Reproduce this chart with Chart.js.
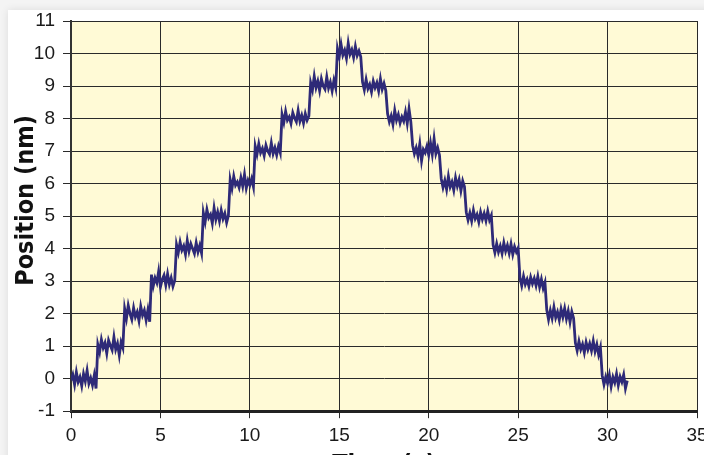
<!DOCTYPE html>
<html>
<head>
<meta charset="utf-8">
<script src="https://cdn.jsdelivr.net/npm/chart.js@4/dist/chart.umd.min.js"></script>
<style>
    html, body { margin: 0; padding: 0; width: 704px; height: 455px; overflow: hidden; background: #f4f4f4; }
    .card { position: absolute; left: 8px; top: 10px; width: 720px; height: 480px; background: #fff; box-shadow: 0 0 8px rgba(0,0,0,0.10); }
    .chart-box { position: absolute; left: 0; top: 0; width: 704px; height: 478px; }
</style>
</head>
<body>
<div class="card"></div>
<div class="chart-box"><canvas id="stepChart"></canvas></div>
<script>
// 샘플 간격 (s)
const sampleInterval = 0.1;

// 축 범위
const xRange = { min: 0, max: 35, step: 5 };
const yRange = { min: -1, max: 11, step: 1 };

// 위치 트레이스 (nm), 0.1 s 간격 - 계단별로 줄바꿈
const positionNm = [
    -0.05, 0.12, -0.18, 0.2, -0.1, 0.05, -0.22, 0.15, -0.08, 0.25, -0.15, 0.02, -0.2, 0.1, -0.3,
    1.05, 0.82, 1.2, 0.95, 1.1, 0.78, 1.18, 1.02, 0.88, 1.28, 0.9, 1.08, 0.72, 1.12, 0.95,
    2.15, 1.85, 2.25, 2.0, 1.82, 2.18, 1.9, 2.05, 1.78, 2.22, 1.95, 2.1, 1.8, 2.12, 1.75,
    3.2, 2.85, 3.1, 2.95, 3.3, 2.82, 3.05, 3.18, 2.88, 3.22, 2.9, 3.1, 2.84, 3.02,
    4.12, 3.88, 4.2, 3.95, 4.08, 3.82, 4.25, 3.92, 4.15, 4.0, 3.85, 4.18, 3.9, 4.1, 3.86,
    5.1, 4.82, 5.2, 4.95, 5.05, 4.78, 5.25, 4.9, 5.12, 4.85, 5.18, 4.92, 5.08, 4.8, 5.02,
    6.12, 5.85, 6.22, 5.95, 6.05, 5.88, 6.18, 5.92, 6.28, 5.86, 6.1, 5.95, 6.15, 5.9,
    7.15, 6.9, 7.22, 6.95, 7.08, 6.86, 7.18, 7.0, 6.9, 7.25, 6.92, 7.1, 6.88, 7.15, 6.95,
    8.12, 7.88, 8.22, 7.95, 8.05, 7.85, 8.18, 8.02, 7.9, 8.25, 7.92, 8.1, 7.86, 8.15, 7.95, 8.08,
    9.1, 8.88, 9.3, 8.95, 9.15, 8.86, 9.22, 9.0, 8.9, 9.28, 8.94, 9.12, 8.85, 9.18, 8.95,
    10.15, 9.9, 10.28, 9.95, 10.1, 9.85, 10.32, 9.98, 10.12, 9.88, 10.22, 9.94, 10.08, 9.9,
    9.12, 8.88, 9.2, 8.92, 9.05, 8.82, 9.15, 8.95, 9.1, 8.85, 9.22, 8.9, 9.08, 8.86,
    8.15, 7.9, 8.08, 7.82, 8.25, 7.95, 8.12, 7.86, 8.05, 7.92, 8.2, 7.85, 8.3, 7.9,
    7.18, 6.92, 7.1, 6.85, 7.22, 6.7, 7.05, 6.95, 7.15, 6.88, 7.25, 6.9, 7.38, 6.92, 7.1, 6.88,
    6.15, 5.88, 6.1, 5.82, 6.22, 5.9, 6.05, 5.8, 6.18, 5.92, 6.12, 5.78, 6.08, 5.9,
    5.12, 4.88, 5.1, 4.85, 5.18, 4.92, 5.05, 4.82, 5.12, 4.9, 5.08, 4.86, 5.15, 4.88, 5.02,
    4.12, 3.88, 4.15, 3.9, 4.08, 3.85, 4.18, 3.92, 4.1, 3.86, 4.14, 3.82, 4.06, 3.9, 4.02,
    3.1, 2.86, 3.15, 2.9, 3.05, 2.84, 3.12, 2.92, 3.08, 2.86, 3.14, 2.82, 3.06, 2.78, 2.96,
    2.12, 1.82, 2.1, 1.86, 2.2, 1.88, 2.05, 1.8, 2.14, 1.9, 2.16, 1.84, 2.08, 1.74, 2.06, 1.86,
    1.1, 0.86, 1.15, 0.9, 1.06, 0.8, 1.12, 0.9, 1.08, 0.86, 1.16, 0.84, 1.05, 0.74, 0.96,
    0.1, -0.18, 0.06, -0.14, 0.12, -0.24, 0.05, -0.12, 0.15, -0.2, 0.06, -0.1, 0.12, -0.3, -0.06
];

const xTitle = 'Time (s)';
// 앞쪽 공백으로 제목을 약간 위로 올림
const yTitle = '    Position (nm)';

// 그래프 배경 (연노랑)
const plotBackground = {
    id: 'plotBackground',
    beforeDraw(chart) {
        const { ctx, chartArea } = chart;
        ctx.save();
        ctx.fillStyle = '#fffad6';
        ctx.fillRect(chartArea.left, chartArea.top, chartArea.right - chartArea.left, chartArea.bottom - chartArea.top);
        ctx.restore();
    }
};

const points = positionNm.map((y, i) => ({ x: Math.round(i * sampleInterval * 10) / 10, y: y }));

const titleFont = { family: "'DejaVu Sans Condensed', 'DejaVu Sans', sans-serif", size: 25, weight: 'bold', lineHeight: 1 };
const tickFont = { family: "'Liberation Sans Narrow', 'Liberation Sans', Arial, sans-serif", size: 19 };

new Chart(document.getElementById('stepChart'), {
    type: 'line',
    data: {
        datasets: [{
            data: points,
            borderColor: '#2e2a78',
            borderWidth: 2.8,
            pointRadius: 0,
            tension: 0,
            fill: false
        }]
    },
    options: {
        responsive: true,
        maintainAspectRatio: false,
        animation: false,
        layout: { autoPadding: false, padding: { left: 14, top: 21, right: 7, bottom: 0 } },
        plugins: { legend: { display: false }, tooltip: { enabled: false } },
        scales: {
            x: {
                type: 'linear',
                min: xRange.min,
                max: xRange.max,
                afterFit(scale) { scale.paddingRight = 0; scale.paddingLeft = 0; },
                ticks: { stepSize: xRange.step, color: '#1a1a1a', font: tickFont, padding: 6, maxRotation: 0 },
                grid: { color: '#2a2a2a', lineWidth: 1, tickLength: 7 },
                border: { color: '#222', width: 3 },
                title: { display: true, text: xTitle, color: '#111', font: titleFont, padding: 0 }
            },
            y: {
                min: yRange.min,
                max: yRange.max,
                afterFit(scale) { scale.width = 57; },
                ticks: { stepSize: yRange.step, color: '#1a1a1a', font: tickFont, padding: 8 },
                grid: { color: '#2a2a2a', lineWidth: 1, tickLength: 8 },
                border: { color: '#333', width: 2 },
                title: { display: true, text: yTitle, color: '#111', font: titleFont, padding: 0 }
            }
        }
    },
    plugins: [plotBackground]
});
</script>
</body>
</html>
